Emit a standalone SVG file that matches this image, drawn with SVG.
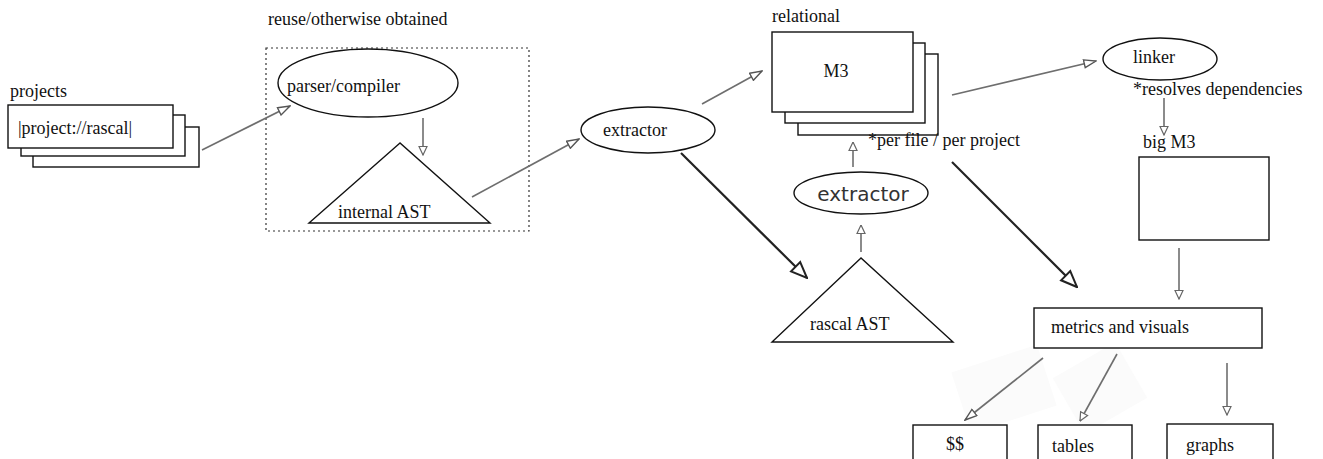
<svg xmlns="http://www.w3.org/2000/svg" width="1323" height="459" viewBox="0 0 1323 459">
<style>
text{font-family:"Liberation Serif","Times New Roman",serif;font-size:18px;fill:#111}
.box{fill:#fff;stroke:#111;stroke-width:1.4}
.thin{stroke:#6e6e6e;stroke-width:1.6;fill:none}
.thick{stroke:#222;stroke-width:2.2;fill:none}
.mono{font-family:"DejaVu Sans",sans-serif;font-size:20px;fill:#333}
</style>
<defs>
<marker id="ah" markerUnits="userSpaceOnUse" markerWidth="14" markerHeight="10" viewBox="0 0 14 10" refX="13" refY="5" orient="auto">
<path d="M1,1 L13,5 L1,9 Z" fill="#fff" stroke="#555" stroke-width="1.4"/>
</marker>
<marker id="ahs" markerUnits="userSpaceOnUse" markerWidth="10" markerHeight="10" viewBox="0 0 10 10" refX="9.5" refY="5" orient="auto">
<path d="M1,1 L9.5,5 L1,9 Z" fill="#fff" stroke="#666" stroke-width="1.2"/>
</marker>
<marker id="ahk" markerUnits="userSpaceOnUse" markerWidth="18" markerHeight="16" viewBox="0 0 18 16" refX="17" refY="8" orient="auto">
<path d="M1,1.5 L17,8 L1,14.5 Z" fill="#fff" stroke="#222" stroke-width="2"/>
</marker>
</defs>

<g id="faint">
<rect x="-45" y="-32" width="90" height="64" fill="#fbfbfb" transform="translate(1004,389) rotate(-18)"/>
<rect x="-36" y="-32" width="72" height="64" fill="#fbfbfb" transform="translate(1100,388) rotate(-30)"/>
</g>

<g id="projects">
<text x="10" y="97">projects</text>
<rect class="box" x="33" y="127" width="166" height="40"/>
<rect class="box" x="21" y="115" width="164" height="41"/>
<rect class="box" x="8" y="105" width="165" height="43"/>
<text x="18" y="134">|project://rascal|</text>
</g>

<g id="reuse">
<text x="268" y="25">reuse/otherwise obtained</text>
<rect x="266" y="48" width="263" height="183" fill="none" stroke="#333" stroke-width="1.2" stroke-dasharray="2,3"/>
</g>

<g id="parser">
<ellipse class="box" cx="368" cy="83" rx="90" ry="34"/>
<text x="287" y="92">parser/compiler</text>
</g>

<g id="internal-ast">
<polygon class="box" points="400,143 309,223 490,223"/>
<text x="338" y="218">internal AST</text>
</g>

<g id="extractor">
<ellipse class="box" cx="648" cy="130" rx="67" ry="23"/>
<text x="603" y="136">extractor</text>
</g>

<g id="m3">
<text x="772" y="22">relational</text>
<rect class="box" x="798" y="54" width="140" height="81"/>
<rect class="box" x="785" y="43" width="140" height="80"/>
<rect class="box" x="772" y="32" width="141" height="80"/>
<text x="836" y="77" text-anchor="middle">M3</text>
<text x="868" y="146">*per file / per project</text>
</g>

<g id="linker">
<ellipse class="box" cx="1160" cy="59" rx="57" ry="21"/>
<text x="1133" y="63">linker</text>
<text x="1133" y="95">*resolves dependencies</text>
</g>

<g id="big-m3">
<text x="1143" y="148">big M3</text>
<rect class="box" x="1139" y="157" width="130" height="83"/>
</g>

<g id="extractor2">
<ellipse class="box" cx="861" cy="193" rx="67" ry="21"/>
<text class="mono" x="863" y="201" text-anchor="middle">extractor</text>
</g>

<g id="rascal-ast">
<polygon class="box" points="861,258 772,342 953,342"/>
<text x="810" y="330">rascal AST</text>
</g>

<g id="metrics">
<rect class="box" x="1034" y="308" width="228" height="40"/>
<text x="1051" y="333">metrics and visuals</text>
</g>

<g id="dollars">
<rect class="box" x="913" y="425" width="94" height="40"/>
<text x="946" y="450">$$</text>
</g>

<g id="tables">
<rect class="box" x="1038" y="425" width="94" height="40"/>
<text x="1052" y="452">tables</text>
</g>

<g id="graphs">
<rect class="box" x="1167" y="424" width="106" height="40"/>
<text x="1186" y="451">graphs</text>
</g>

<g id="connectors">
<line class="thin" x1="202" y1="150" x2="290" y2="106" marker-end="url(#ah)"/>
<line class="thin" x1="423" y1="118" x2="423" y2="155" marker-end="url(#ahs)"/>
<line class="thin" x1="472" y1="197" x2="579" y2="139" marker-end="url(#ah)"/>
<line class="thin" x1="702" y1="104" x2="762" y2="71" marker-end="url(#ah)"/>
<line class="thin" x1="952" y1="95" x2="1096" y2="61" marker-end="url(#ah)"/>
<line class="thin" x1="1164" y1="98" x2="1164" y2="135" marker-end="url(#ahs)"/>
<line class="thin" x1="1179" y1="248" x2="1179" y2="299" marker-end="url(#ahs)"/>
<line class="thick" x1="681" y1="153" x2="807" y2="278" marker-end="url(#ahk)"/>
<line class="thin" x1="861" y1="252" x2="861" y2="225" marker-end="url(#ahs)"/>
<line class="thin" x1="853" y1="167" x2="853" y2="142" marker-end="url(#ahs)"/>
<line class="thick" x1="952" y1="162" x2="1077" y2="287" marker-end="url(#ahk)"/>
<line class="thin" x1="1043" y1="358" x2="965" y2="420" marker-end="url(#ah)"/>
<line class="thin" x1="1117" y1="354" x2="1080" y2="421" marker-end="url(#ahs)"/>
<line class="thin" x1="1227" y1="363" x2="1227" y2="415" marker-end="url(#ahs)"/>
</g>
</svg>
